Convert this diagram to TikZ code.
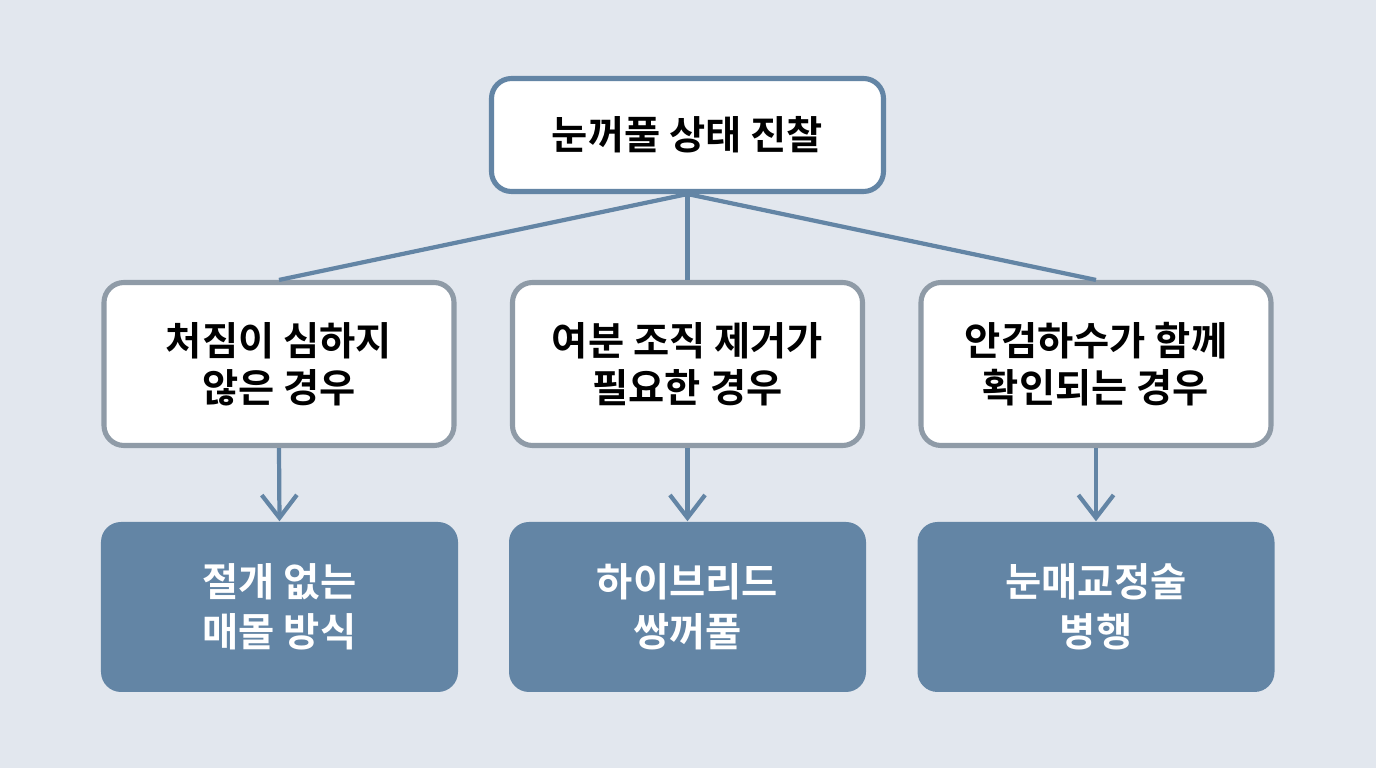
\documentclass[tikz,border=0pt]{standalone}
\usepackage{fontspec}
\usepackage{tikz}
\usetikzlibrary{arrows.meta}
\newfontfamily\kr{Noto Sans CJK KR}[BoldFont={Noto Sans CJK KR Bold}]

\definecolor{bgcol}{HTML}{E2E7EE}
\definecolor{steel}{HTML}{6385A5}
\definecolor{edgegray}{HTML}{8F9BA7}

\tikzset{
  topbox/.style={draw=steel, line width=1.45pt, fill=white, rounded corners=0.2cm,
    minimum width=3.92cm, minimum height=1.13cm, align=center,
    font=\kr\bfseries\fontsize{11.2}{14.2}\selectfont},
  casebox/.style={draw=edgegray, line width=1.45pt, fill=white, rounded corners=0.2cm,
    minimum width=3.5cm, minimum height=1.63cm, align=center,
    font=\kr\bfseries\fontsize{11.2}{14.2}\selectfont},
  resultbox/.style={fill=steel, rounded corners=0.2cm, text=white,
    minimum width=3.57cm, minimum height=1.70cm, align=center,
    font=\kr\bfseries\fontsize{11.2}{14.2}\selectfont},
  link/.style={draw=steel, line width=1.2pt},
  arr/.style={draw=steel, line width=1.2pt, -{Straight Barb[length=6.5pt,width=10pt,line width=1.2pt]}}
}

\begin{document}
\begin{tikzpicture}

\fill[bgcol] (0,0) rectangle (13.76,7.68);
\useasboundingbox (0,0) rectangle (13.76,7.68);

% top
\node[topbox] (exam) at (6.875,6.33) {\raisebox{-0.6pt}{눈꺼풀 상태 진찰}};

% cases
\node[casebox] (mild) at (2.79,4.04) {\raisebox{-0.8pt}{\shortstack{처짐이 심하지\\않은 경우}}};
\node[casebox] (excess) at (6.875,4.04) {\raisebox{-0.8pt}{\shortstack{여분 조직 제거가\\필요한 경우}}};
\node[casebox] (ptosis) at (10.96,4.04) {\raisebox{-0.8pt}{\shortstack{안검하수가 함께\\확인되는 경우}}};

% results
\node[resultbox] (buried) at (2.795,1.61) {절개 없는\\매몰 방식};
\node[resultbox] (hybrid) at (6.875,1.61) {하이브리드\\쌍꺼풀};
\node[resultbox] (correct) at (10.96,1.61) {눈매교정술\\병행};

% links from top
\draw[link] (exam.south) -- (mild.north);
\draw[link] (exam.south) -- (excess.north);
\draw[link] (exam.south) -- (ptosis.north);

% arrows down
\draw[arr] (mild.south) -- (buried.north);
\draw[arr] (excess.south) -- (hybrid.north);
\draw[arr] (ptosis.south) -- (correct.north);

\end{tikzpicture}
\end{document}
